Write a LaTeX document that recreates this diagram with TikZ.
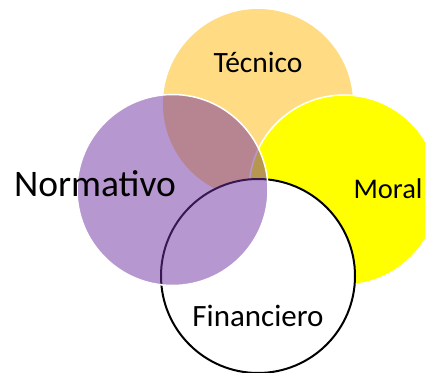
\documentclass[tikz,border=0pt]{standalone}
\usepackage{fontspec}
\setmainfont{Carlito}
\usetikzlibrary{positioning}
\definecolor{tecnicoorange}{HTML}{FFDC84}
\definecolor{normpurple}{HTML}{7030A0}
\definecolor{moralyellow}{HTML}{FFFF00}
\tikzset{
  venn/.style={circle,minimum size=190pt,inner sep=0pt},
  lbl/.style={anchor=base,inner sep=0pt}
}
\begin{document}
\begin{tikzpicture}[x=1pt,y=1pt]
\clip (0,0) rectangle (425,372);
% circles, back to front
\node[venn,fill=tecnicoorange] (tecnico) at (258,268) {};
\node[venn,fill=moralyellow,draw=white,line width=1.5pt] (moral) at (344,182) {};
\node[venn,fill=white,draw=black,line width=2pt,minimum size=194pt] (financiero) at (258,96) {};
\node[venn,fill=normpurple,fill opacity=.5,draw=white,line width=1.5pt,minimum size=191pt] (normativo) at (172.5,182) {};
% labels
\node[lbl,font=\fontsize{29.5}{31}\selectfont] (tecnicolbl) at (258,299) {Técnico};
\node[lbl,font=\fontsize{28.5}{30}\selectfont] (morallbl) at (388,173) {Moral};
\node[lbl,font=\fontsize{31}{33}\selectfont] (financierolbl) at (258,46) {Financiero};
\node[lbl,font=\fontsize{37.5}{40}\selectfont] (normativolbl) at (95,175) {Normativo};
\end{tikzpicture}
\end{document}
